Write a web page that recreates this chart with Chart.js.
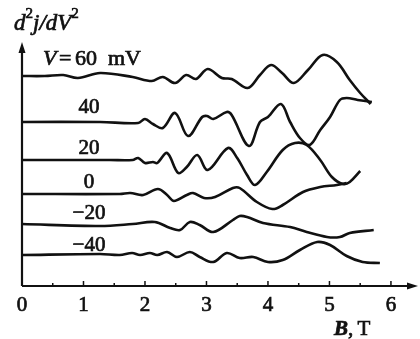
<!DOCTYPE html>
<html>
<head>
<meta charset="utf-8">
<script src="https://cdn.jsdelivr.net/npm/chart.js@4/dist/chart.umd.min.js"></script>
<style>
  html, body { margin: 0; padding: 0; background: #fff; }
  #wrap { width: 420px; height: 339px; }
</style>
</head>
<body>
<div id="wrap"><canvas id="d2jChart"></canvas></div>
<script>
// Bias voltages (mV) for each trace, top to bottom
const voltages = [60, 40, 20, 0, -20, -40];

// Magnetic field B (T) and d2j/dV2 (arb. units, traces offset vertically)
const b60 = [0, 0.37, 0.67, 0.91, 1.27, 1.80, 2.11, 2.29, 2.49, 2.67, 2.83, 3.02, 3.25, 3.41, 3.67, 3.87, 4.05, 4.23, 4.42, 4.65, 4.89, 5.12, 5.33, 5.50, 5.67];
const y60 = [21.0, 21.0, 21.1, 20.8, 21.3, 20.9, 20.5, 20.9, 20.3, 21.1, 20.7, 21.7, 20.8, 20.7, 19.8, 21.1, 22.1, 21.3, 20.3, 21.6, 23.1, 22.4, 20.6, 19.3, 18.2];

const b40 = [0, 1.27, 1.89, 2.00, 2.13, 2.29, 2.49, 2.70, 2.93, 3.01, 3.11, 3.33, 3.41, 3.69, 3.87, 4.00, 4.21, 4.36, 4.52, 4.68, 4.85, 5.01, 5.17, 5.28, 5.46, 5.69];
const y40 = [16.4, 16.4, 16.3, 16.7, 16.2, 15.8, 17.3, 15.0, 16.9, 17.0, 16.7, 17.4, 17.1, 14.0, 16.4, 16.9, 18.2, 16.4, 14.8, 14.1, 15.6, 16.9, 18.6, 18.8, 18.6, 18.4];

const b20 = [0, 1.43, 1.80, 1.89, 2.00, 2.13, 2.20, 2.36, 2.54, 2.68, 2.85, 3.02, 3.35, 3.50, 3.66, 3.79, 3.98, 4.24, 4.44, 4.63, 4.85, 5.04, 5.22, 5.33, 5.50];
const y20 = [12.6, 12.6, 12.6, 12.8, 12.3, 12.4, 12.3, 13.3, 11.3, 11.9, 13.1, 11.6, 13.8, 12.8, 11.1, 10.1, 11.4, 13.6, 14.3, 14.1, 12.6, 10.9, 10.2, 10.4, 11.5];

const b0 = [0, 1.59, 1.76, 1.97, 2.21, 2.36, 2.47, 2.68, 2.78, 2.96, 3.14, 3.43, 3.54, 3.82, 4.07, 4.24, 4.57, 4.85, 5.12, 5.28];
const y0 = [9.2, 9.2, 9.3, 9.1, 9.7, 9.1, 8.5, 9.1, 9.3, 8.8, 8.9, 9.8, 9.8, 8.4, 7.7, 8.1, 9.4, 9.9, 10.1, 10.3];

const bm20 = [0, 1.27, 1.80, 2.16, 2.41, 2.57, 2.73, 2.89, 3.11, 3.43, 3.54, 3.66, 3.92, 4.36, 4.63, 4.96, 5.17, 5.33, 5.72];
const ym20 = [6.2, 6.0, 6.2, 6.4, 5.8, 5.6, 6.4, 6.1, 5.4, 6.6, 7.0, 6.9, 6.3, 5.9, 5.4, 4.9, 4.9, 5.3, 5.6];

const bm40 = [0, 1.27, 1.59, 1.79, 1.92, 2.08, 2.20, 2.36, 2.52, 2.73, 2.89, 3.11, 3.33, 3.54, 3.76, 4.00, 4.24, 4.52, 4.80, 5.01, 5.28, 5.54, 5.82];
const ym40 = [3.1, 3.2, 3.1, 3.3, 3.1, 3.3, 3.1, 3.4, 2.9, 3.4, 2.9, 2.4, 3.3, 2.8, 2.9, 2.4, 2.6, 3.6, 4.4, 4.1, 3.0, 2.4, 2.3];

// x-axis tick labels
const xTicks = [0, 1, 2, 3, 4, 5, 6];

const traces = [[b60, y60], [b40, y40], [b20, y20], [b0, y0], [bm20, ym20], [bm40, ym40]];

function toPoints(bs, ys) {
  return bs.map((b, i) => ({ x: b, y: ys[i] }));
}

const INK = '#111';
const SERIF = '"Liberation Serif", "DejaVu Serif", serif';

// fill plus a hairline stroke so the lettering has some weight
function ink(c, txt, x, y) {
  c.fillText(txt, x, y);
  c.strokeText(txt, x, y);
}

// axes with arrows, inward ticks and all the lettering
const axesPlugin = {
  id: 'axesPlugin',
  afterDraw(chart) {
    const c = chart.ctx;
    const xs = chart.scales.x;
    const ys = chart.scales.y;
    const x0 = xs.getPixelForValue(0);
    const y0p = ys.getPixelForValue(0);
    const xEnd = xs.right;
    const yTop = ys.top;

    c.save();
    c.strokeStyle = INK;
    c.fillStyle = INK;
    c.lineWidth = 2.2;

    // axis lines
    c.beginPath();
    c.moveTo(x0, y0p);
    c.lineTo(xEnd - 6, y0p);
    c.moveTo(x0, y0p);
    c.lineTo(x0, yTop + 6);
    c.stroke();

    // arrow heads
    c.beginPath();
    c.moveTo(xEnd, y0p);
    c.lineTo(xEnd - 11, y0p - 3.5);
    c.lineTo(xEnd - 11, y0p + 3.5);
    c.closePath();
    c.fill();
    c.beginPath();
    c.moveTo(x0, yTop);
    c.lineTo(x0 - 3.5, yTop + 11);
    c.lineTo(x0 + 3.5, yTop + 11);
    c.closePath();
    c.fill();

    // ticks at every half tesla, pointing up into the plot
    c.lineWidth = 1.5;
    for (let t = 0.5; t <= 6.01; t += 0.5) {
      const px = xs.getPixelForValue(t);
      const len = Number.isInteger(t) ? 5 : 3;
      c.beginPath();
      c.moveTo(px, y0p);
      c.lineTo(px, y0p - len);
      c.stroke();
    }

    c.lineWidth = 0.7;
    c.textBaseline = 'alphabetic';

    // tick labels
    c.font = '21px ' + SERIF;
    c.textAlign = 'center';
    xTicks.forEach(t => {
      ink(c, String(t), xs.getPixelForValue(t), y0p + 25);
    });

    // x-axis title: B, T
    c.textAlign = 'left';
    c.font = 'italic bold 21px ' + SERIF;
    ink(c, 'B', 334, 335);
    const w = c.measureText('B').width;
    c.font = '21px ' + SERIF;
    ink(c, ',\u2009T', 334 + w, 335);

    // y-axis title: d²j/dV²
    let x = 14;
    const base = 30;
    const part = (txt, font, dy) => {
      c.font = font;
      ink(c, txt, x, base + dy);
      x += c.measureText(txt).width;
    };
    part('d', 'italic 23px ' + SERIF, 0);
    part('2', '15px ' + SERIF, -12);
    part('j/dV', 'italic 23px ' + SERIF, 0);
    part('2', '15px ' + SERIF, -12);

    // top trace label, V = 60 mV
    c.font = 'italic 22px ' + SERIF;
    ink(c, 'V', 43, 65);
    c.font = '22px ' + SERIF;
    ink(c, '=', 59, 65);
    ink(c, String(voltages[0]), 75, 65);
    ink(c, 'mV', 108, 65);

    // remaining trace labels
    const labelBase = [null, 113, 154, 188, 219, 251];
    c.font = '21px ' + SERIF;
    c.textAlign = 'center';
    voltages.forEach((v, i) => {
      if (i === 0) return;
      const txt = v < 0 ? '\u2212' + Math.abs(v) : String(v);
      ink(c, txt, 89, labelBase[i]);
    });

    c.restore();
  }
};

const ctx = document.getElementById('d2jChart').getContext('2d');

new Chart(ctx, {
  type: 'line',
  data: {
    datasets: traces.map((tr, i) => ({
      label: voltages[i] + ' mV',
      data: toPoints(tr[0], tr[1]),
      borderColor: INK,
      borderWidth: 2.6,
      tension: 0.35,
      fill: false,
      pointRadius: 0
    }))
  },
  options: {
    animation: false,
    responsive: true,
    maintainAspectRatio: false,
    layout: {
      padding: { left: 22, right: 2, top: 42, bottom: 53 }
    },
    plugins: {
      legend: { display: false },
      tooltip: { enabled: false }
    },
    scales: {
      x: { type: 'linear', min: 0, max: 6.44, display: false },
      y: { type: 'linear', min: 0, max: 24.4, display: false }
    }
  },
  plugins: [axesPlugin]
});
</script>
</body>
</html>
